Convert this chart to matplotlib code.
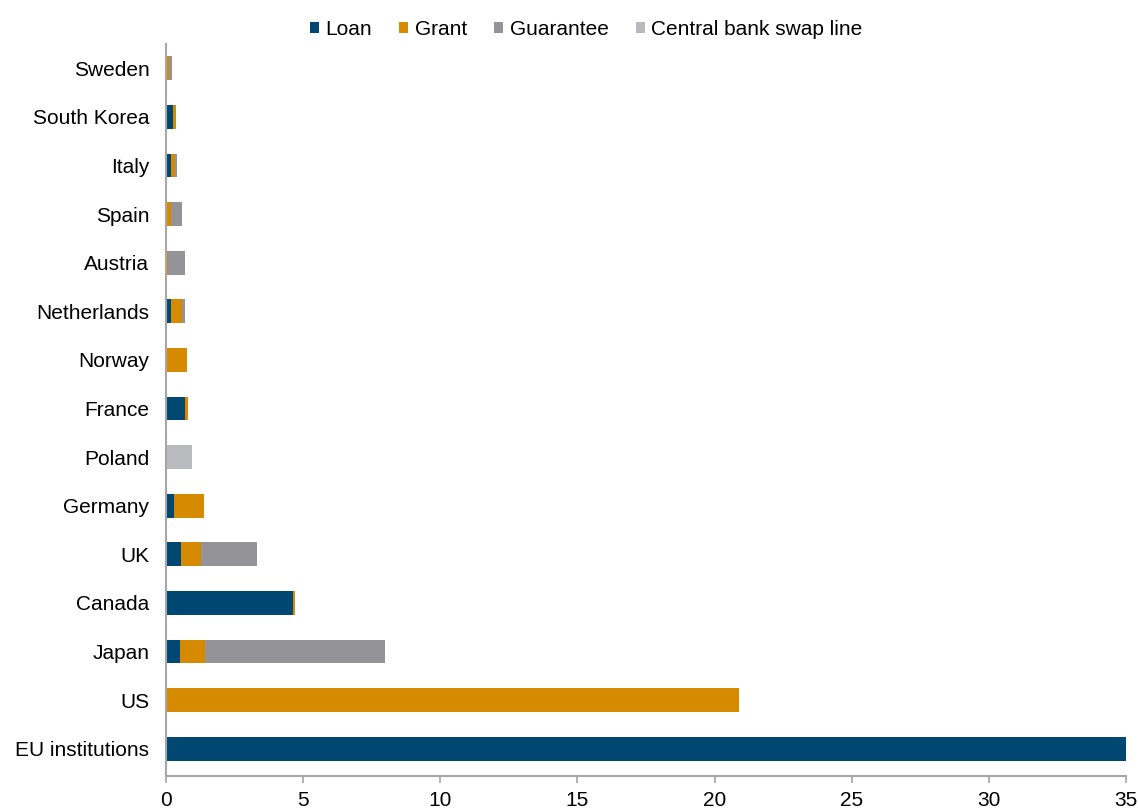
import matplotlib.pyplot as plt
import numpy as np

plt.rcParams['font.family'] = ['Liberation Sans', 'DejaVu Sans']

# data (bn), bottom to top
countries = ['EU institutions', 'US', 'Japan', 'Canada', 'UK', 'Germany', 'Poland',
             'France', 'Norway', 'Netherlands', 'Austria', 'Spain', 'Italy',
             'South Korea', 'Sweden']
loan = [35.0, 0.0, 0.52, 4.62, 0.56, 0.28, 0.0, 0.68, 0.0, 0.18, 0.0, 0.02, 0.17, 0.27, 0.0]
grant = [0.0, 20.9, 0.91, 0.10, 0.73, 1.10, 0.0, 0.12, 0.75, 0.42, 0.07, 0.15, 0.15, 0.10, 0.12]
guarantee = [0.0, 0.0, 6.57, 0.0, 2.03, 0.0, 0.0, 0.0, 0.0, 0.10, 0.62, 0.40, 0.08, 0.0, 0.08]
swap_line = [0.0, 0.0, 0.0, 0.0, 0.0, 0.0, 0.95, 0.0, 0.0, 0.0, 0.0, 0.0, 0.0, 0.0, 0.0]

series = [
    ('Loan', loan, '#004872'),
    ('Grant', grant, '#D68A00'),
    ('Guarantee', guarantee, '#939398'),
    ('Central bank swap line', swap_line, '#B9BABE'),
]

fig = plt.figure(figsize=(11.38, 8.09), dpi=100)
ax = fig.add_axes([0.1459, 0.0408, 0.8436, 0.9048])

y = np.arange(len(countries))
left = np.zeros(len(countries))
for name, vals, color in series:
    vals = np.array(vals)
    ax.barh(y, vals, left=left, height=0.49, color=color, label=name, linewidth=0)
    left += vals

ax.set_xlim(0, 35)
ax.set_ylim(-0.56, 14.5)
ax.set_xticks(range(0, 36, 5))
ax.set_yticks(y)
ax.set_yticklabels(countries)

for s in ['top', 'right']:
    ax.spines[s].set_visible(False)
for s in ['left', 'bottom']:
    ax.spines[s].set_color('#A6A6A6')
    ax.spines[s].set_linewidth(1.5)
ax.tick_params(axis='y', length=0, pad=12, labelsize=15)
ax.tick_params(axis='x', length=5, width=1.2, color='#A6A6A6', labelsize=15, pad=6)

fig.legend(loc='upper center', bbox_to_anchor=(0.515, 0.999), ncol=4, frameon=False,
           fontsize=15, handlelength=0.45, handleheight=0.45, handletextpad=0.3,
           columnspacing=1.3)

fig.savefig('out.png', dpi=100)
